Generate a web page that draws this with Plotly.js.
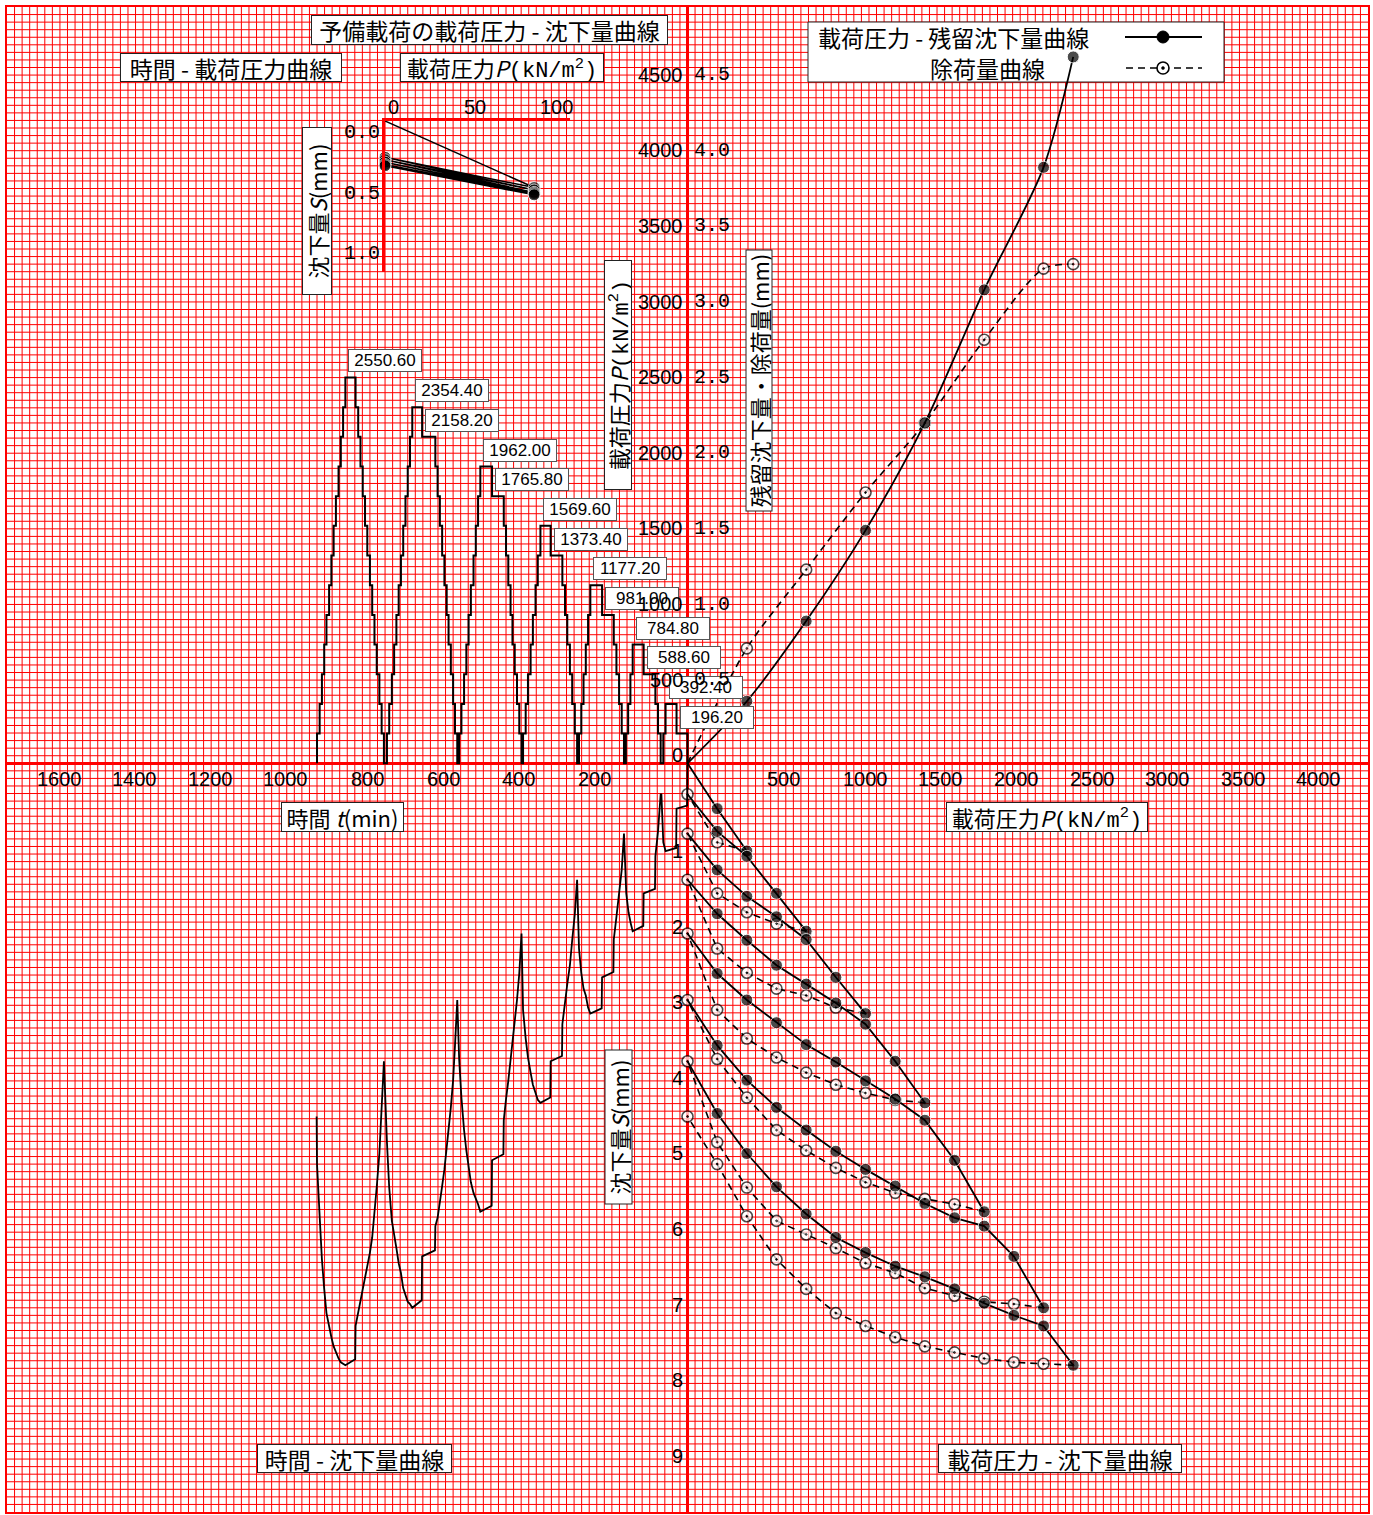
<!DOCTYPE html>
<html>
<head>
<meta charset="utf-8">
<script src="https://cdn.plot.ly/plotly-3.0.1.min.js"></script>
<style>
html,body{margin:0;padding:0;background:#fff;}
#chart{width:1373px;height:1515px;}
#chart path.xgrid, #chart path.ygrid { shape-rendering: geometricPrecision !important; }
</style>
</head>
<body>
<div id="chart"></div>
<script>
// ---------------- DATA ----------------
// load levels (kN/m2)
const loadLevels = [0, 196.2, 392.4, 588.6, 784.8, 981.0, 1177.2, 1373.4, 1569.6, 1765.8, 1962.0, 2158.2, 2354.4, 2550.6];

// load - settlement curves (mm), loading branches per cycle
const loadS1 = [0, 0.60, 1.16];
const loadS2 = [0.41, 0.90, 1.23, 1.72, 2.22];
const loadS3 = [0.93, 1.41, 1.76, 2.03, 2.33, 2.83, 3.31];
const loadS4 = [1.54, 1.99, 2.34, 2.67, 2.92, 3.17, 3.45, 3.94, 4.49];
const loadS5 = [2.25, 2.78, 3.13, 3.43, 3.72, 3.95, 4.20, 4.44, 4.72, 5.25, 5.93];
const loadS6 = [3.13, 3.73, 4.19, 4.55, 4.85, 5.13, 5.37, 5.59, 5.82, 6.01, 6.12, 6.52, 7.20];
const loadS7 = [3.94, 4.63, 5.16, 5.60, 5.96, 6.27, 6.47, 6.65, 6.79, 6.95, 7.14, 7.30, 7.44, 7.96];
// unloading branches per cycle (from peak down to 0)
const unloadS1 = [1.16, 1.045, 0.41];
const unloadS2 = [2.22, 2.12, 1.97, 1.72, 0.93];
const unloadS3 = [3.31, 3.23, 3.07, 2.98, 2.77, 2.45, 1.54];
const unloadS4 = [4.49, 4.45, 4.36, 4.25, 4.09, 3.89, 3.64, 3.26, 2.25];
const unloadS5 = [5.93, 5.83, 5.76, 5.68, 5.54, 5.35, 5.12, 4.85, 4.42, 3.91, 3.13];
const unloadS6 = [7.20, 7.15, 7.12, 7.04, 6.94, 6.74, 6.61, 6.41, 6.23, 6.05, 5.61, 5.01, 3.94];
const unloadS7 = [7.96, 7.94, 7.92, 7.87, 7.79, 7.71, 7.59, 7.44, 7.27, 6.95, 6.56, 5.99, 5.30, 4.67];

// load - residual settlement / rebound (mm)
const peakP = [0, 392.4, 784.8, 1177.2, 1569.6, 1962.0, 2354.4, 2550.6];
const residualS = [0, 0.41, 0.94, 1.54, 2.25, 3.13, 3.94, 4.67];
const reboundS = [0, 0.76, 1.28, 1.79, 2.25, 2.80, 3.27, 3.30];

// time - load (min, kN/m2), step changes
const stepTime = [0, 0, 29, 58, 64,
  71, 78, 85, 116, 145, 151, 157, 163,
  168, 174, 181, 188, 195, 226, 257, 263, 269, 275, 281, 287,
  292, 298, 305, 311, 318, 324, 331, 362, 389, 396, 402, 409, 415, 422, 428, 435,
  439, 445, 451, 457, 463, 468, 474, 480, 486, 517, 548, 554, 560, 566, 573, 579, 585, 591, 598, 604,
  609, 615, 620, 626, 632, 637, 643, 649, 655, 661, 667, 702, 728, 734, 740, 746, 752, 758, 764, 770, 776, 782, 789, 795,
  803, 809, 815, 822, 828, 834, 840, 847, 853, 859, 865, 871, 878, 905, 911, 917, 923, 930, 936, 942, 948, 955, 961, 967, 973, 980];
const stepLoad = [0, 196.2, 392.4, 196.2, 0,
  196.2, 392.4, 588.6, 784.8, 588.6, 392.4, 196.2, 0,
  196.2, 392.4, 588.6, 784.8, 981.0, 1177.2, 981.0, 784.8, 588.6, 392.4, 196.2, 0,
  196.2, 392.4, 588.6, 784.8, 981.0, 1177.2, 1373.4, 1569.6, 1373.4, 1177.2, 981.0, 784.8, 588.6, 392.4, 196.2, 0,
  196.2, 392.4, 588.6, 784.8, 981.0, 1177.2, 1373.4, 1569.6, 1765.8, 1962.0, 1765.8, 1569.6, 1373.4, 1177.2, 981.0, 784.8, 588.6, 392.4, 196.2, 0,
  196.2, 392.4, 588.6, 784.8, 981.0, 1177.2, 1373.4, 1569.6, 1765.8, 1962.0, 2158.2, 2354.4, 2158.2, 1962.0, 1765.8, 1569.6, 1373.4, 1177.2, 981.0, 784.8, 588.6, 392.4, 196.2, 0,
  196.2, 392.4, 588.6, 784.8, 981.0, 1177.2, 1373.4, 1569.6, 1765.8, 1962.0, 2158.2, 2354.4, 2550.6, 2354.4, 2158.2, 1962.0, 1765.8, 1569.6, 1373.4, 1177.2, 981.0, 784.8, 588.6, 392.4, 196.2, 0];

// time - settlement (min, mm)
const tsTime = [0, 1, 29, 30, 58, 64, 69,
  71, 78, 85, 86, 116, 117, 145, 150, 156, 162, 168,
  174, 181, 188, 195, 196, 226, 227, 257, 263, 269, 275, 281, 287, 292,
  298, 305, 311, 318, 324, 331, 332, 362, 363, 389, 396, 402, 409, 415, 422, 428, 435, 439,
  445, 451, 457, 463, 468, 474, 480, 486, 487, 517, 518, 548, 554, 560, 566, 573, 579, 585, 591, 598, 604, 609,
  615, 620, 626, 632, 637, 643, 649, 655, 661, 667, 668, 702, 703, 728, 734, 740, 746, 752, 758, 764, 770, 776, 782, 789, 795, 803,
  809, 815, 822, 828, 834, 840, 847, 853, 859, 865, 871, 878, 879, 905, 911, 917, 923, 930, 936, 942, 948, 955, 961, 967, 973, 980, 981];
const tsSettle = [0, 0.56, 0.60, 1.12, 1.16, 1.045, 0.41,
  0.41, 0.90, 1.23, 1.66, 1.72, 2.15, 2.22, 2.12, 1.97, 1.72, 0.93,
  1.41, 1.76, 2.03, 2.33, 2.76, 2.83, 3.24, 3.31, 3.23, 3.07, 2.98, 2.77, 2.45, 1.54,
  1.99, 2.34, 2.67, 2.92, 3.17, 3.45, 3.87, 3.94, 4.42, 4.49, 4.45, 4.36, 4.25, 4.09, 3.89, 3.64, 3.26, 2.25,
  2.78, 3.13, 3.43, 3.72, 3.95, 4.20, 4.44, 4.72, 5.17, 5.25, 5.85, 5.93, 5.83, 5.76, 5.68, 5.54, 5.35, 5.12, 4.85, 4.42, 3.91, 3.13,
  3.73, 4.19, 4.55, 4.85, 5.13, 5.37, 5.59, 5.82, 6.01, 6.12, 6.44, 6.52, 7.10, 7.20, 7.15, 7.12, 7.04, 6.94, 6.74, 6.61, 6.41, 6.23, 6.05, 5.61, 5.01, 3.94,
  4.63, 5.16, 5.60, 5.96, 6.27, 6.47, 6.65, 6.79, 6.95, 7.14, 7.30, 7.44, 7.88, 7.96, 7.94, 7.92, 7.87, 7.79, 7.71, 7.59, 7.44, 7.27, 6.95, 6.56, 5.99, 5.30, 4.67];

// preliminary loading (inset)
const prelimP = [0, 98.1, 0, 98.1, 0, 98.1, 0, 98.1, 0, 98.1, 0];
const prelimS = [0, 0.55, 0.30, 0.57, 0.32, 0.59, 0.34, 0.60, 0.36, 0.61, 0.37];

// tick labels
const timeTicks = [200, 400, 600, 800, 1000, 1200, 1400, 1600];
const pressureTicksX = [500, 1000, 1500, 2000, 2500, 3000, 3500, 4000];
const pressureTicksY = [0, 500, 1000, 1500, 2000, 2500, 3000, 3500, 4000, 4500];
const residualTicks = [0.5, 1.0, 1.5, 2.0, 2.5, 3.0, 3.5, 4.0, 4.5];
const residualTickText = ['0.5', '1.0', '1.5', '2.0', '2.5', '3.0', '3.5', '4.0', '4.5'];
const settleTicks = [1, 2, 3, 4, 5, 6, 7, 8, 9];
const insetPTicks = [0, 50, 100];
const insetSTicks = [0.0, 0.5, 1.0];
const insetSTickText = ['0.0', '0.5', '1.0'];

// ---------------- STYLE / LAYOUT ----------------
const CJK = '"Noto Sans CJK JP", "Noto Sans", sans-serif';
const NUM = '"Liberation Sans", Arial, sans-serif';
const MONO = '"Liberation Mono", "DejaVu Sans Mono", monospace';
const GRID = '#ff0000';
const UNIT = '<span style="font-family:\'Liberation Mono\',monospace">(kN/m<sup>2</sup>)</span>';
const X_RANGE = [-4500, 4500], Y_RANGE = [-4950, 5000];
const PLOT = {l: 7, t: 7, w: 1361, h: 1505};
const PX = px => (px - PLOT.l) / PLOT.w;            // pixel -> paper
const PY = py => (PLOT.t + PLOT.h - py) / PLOT.h;
const DX = px => X_RANGE[0] + PX(px) * (X_RANGE[1] - X_RANGE[0]);   // pixel -> base axis value
const DY = py => Y_RANGE[0] + PY(py) * (Y_RANGE[1] - Y_RANGE[0]);

const traces = [];
// legend panel background (white box under the curves, above the grid)
const LG = {x0: 808, x1: 1224, y0: 22, y1: 82};
traces.push({x: [DX(LG.x0), DX(LG.x1), DX(LG.x1), DX(LG.x0), DX(LG.x0)],
  y: [DY(LG.y0), DY(LG.y0), DY(LG.y1), DY(LG.y1), DY(LG.y0)],
  xaxis: 'x', yaxis: 'y', mode: 'lines', fill: 'toself', fillcolor: '#fff',
  line: {color: '#222', width: 1}, hoverinfo: 'skip'});
// time - load
traces.push({x: stepTime, y: stepLoad, xaxis: 'x2', yaxis: 'y', mode: 'lines',
  line: {shape: 'hv', color: '#000', width: 2}, hoverinfo: 'skip'});
// time - settlement
traces.push({x: tsTime, y: tsSettle, xaxis: 'x2', yaxis: 'y2', mode: 'lines',
  line: {color: '#000', width: 1.8}, hoverinfo: 'skip'});

// load - settlement
const loadSets = [loadS1, loadS2, loadS3, loadS4, loadS5, loadS6, loadS7];
const unloadSets = [unloadS1, unloadS2, unloadS3, unloadS4, unloadS5, unloadS6, unloadS7];
unloadSets.forEach(s => {
  const p = loadLevels.slice(0, s.length).reverse();
  traces.push({x: p, y: s, xaxis: 'x', yaxis: 'y2', mode: 'lines+markers',
    line: {color: '#000', width: 1.6, dash: '7px,5px'},
    marker: {symbol: 'circle-dot', size: s.map((v, i) => i === 0 ? 0 : 11), color: '#fff', line: {color: '#000', width: 1.6}},
    hoverinfo: 'skip'});
});
loadSets.forEach((s, c) => {
  const p = loadLevels.slice(0, s.length);
  traces.push({x: p, y: s, xaxis: 'x', yaxis: 'y2', mode: 'lines+markers',
    line: {color: '#000', width: 1.8},
    marker: {symbol: 'circle', size: s.map((v, i) => i === 0 ? 0 : 12), color: '#000'},
    hoverinfo: 'skip'});
});

// residual / rebound
traces.push({x: peakP, y: reboundS, xaxis: 'x', yaxis: 'y3', mode: 'lines+markers',
  line: {color: '#000', width: 1.6, dash: '7px,5px', shape: 'spline', smoothing: 0.8},
  marker: {symbol: 'circle-dot', size: reboundS.map((v, i) => i === 0 ? 0 : 11), color: '#fff', line: {color: '#000', width: 1.6}},
  hoverinfo: 'skip'});
traces.push({x: peakP, y: residualS, xaxis: 'x', yaxis: 'y3', mode: 'lines+markers',
  line: {color: '#000', width: 1.8, shape: 'spline', smoothing: 0.8},
  marker: {symbol: 'circle', size: residualS.map((v, i) => i === 0 ? 0 : 12), color: '#000'},
  hoverinfo: 'skip'});

// inset
traces.push({x: prelimP, y: prelimS, xaxis: 'x3', yaxis: 'y4', mode: 'lines+markers',
  line: {color: '#000', width: 1.5},
  marker: {symbol: 'circle', size: prelimS.map((v, i) => i === 0 ? 0 : 12), color: '#000'},
  cliponaxis: false, hoverinfo: 'skip'});

// ------------- annotations -------------
const ann = [];
function boxAnn(text, cx, cy, w, h, angle, size) {
  ann.push({xref: 'paper', yref: 'paper', x: PX(cx), y: PY(cy), xanchor: 'center', yanchor: 'middle',
    text: text, showarrow: false, bgcolor: '#fff', bordercolor: '#222', borderwidth: 1, borderpad: 0,
    width: w, height: h, textangle: angle || 0, font: {family: CJK, size: size || 23, color: '#000'}});
}
function tick(text, xref, x, yref, y, xa, ya, xs, ys, fam, size) {
  ann.push({xref: xref, yref: yref, x: x, y: y, xanchor: xa, yanchor: ya, xshift: xs, yshift: ys,
    text: text, showarrow: false, font: {family: fam, size: size, color: '#000'}});
}

// time - load step labels
loadLevels.slice(1).forEach(L => {
  const i = stepLoad.indexOf(L);
  ann.push({xref: 'x2', yref: 'y', x: stepTime[i + 1], y: L, xanchor: 'left', yanchor: 'bottom',
    xshift: 3, yshift: 5, text: L.toFixed(2), showarrow: false, bgcolor: '#fff', bordercolor: '#555',
    borderwidth: 1, borderpad: 1, width: 70, height: 19, font: {family: NUM, size: 17, color: '#000'}});
});

// title / axis boxes
boxAnn('予備載荷の載荷圧力 - 沈下量曲線', 489.5, 30, 355, 28);
boxAnn('時間 - 載荷圧力曲線', 231, 67.5, 220, 27);
boxAnn('載荷圧力<i>P</i>' + UNIT, 502, 67.5, 202, 27, 0, 22);
boxAnn('沈下量<i>S</i>(mm)', 317, 211, 166, 28, -90, 22);
boxAnn('載荷圧力<i>P</i>' + UNIT, 618, 375, 228, 26, -90, 22);
boxAnn('残留沈下量・除荷量(mm)', 758.5, 381, 260, 25, -90, 22);
boxAnn('時間 <i>t</i>(min)', 342.5, 817, 121, 28, 0, 22);
boxAnn('載荷圧力<i>P</i>' + UNIT, 1047, 817, 200, 28, 0, 22);
boxAnn('沈下量<i>S</i>(mm)', 618, 1127.5, 153, 26, -90, 22);
boxAnn('時間 - 沈下量曲線', 354.5, 1458.5, 193, 27);
boxAnn('載荷圧力 - 沈下量曲線', 1060, 1458.5, 242, 27);

// legend texts
ann.push({xref: 'paper', yref: 'paper', x: PX(953), y: PY(37), xanchor: 'center', yanchor: 'middle',
  text: '載荷圧力 - 残留沈下量曲線', showarrow: false, font: {family: CJK, size: 23, color: '#000'}});
ann.push({xref: 'paper', yref: 'paper', x: PX(987), y: PY(68), xanchor: 'center', yanchor: 'middle',
  text: '除荷量曲線', showarrow: false, font: {family: CJK, size: 23, color: '#000'}});

// tick labels
timeTicks.forEach(t => tick(String(t), 'x2', t, 'y', 0, 'right', 'middle', 1, -16, NUM, 20));
pressureTicksX.forEach(p => tick(String(p), 'x', p, 'y', 0, 'left', 'middle', 2, -16, NUM, 20));
pressureTicksY.forEach(p => tick(String(p), 'x', 0, 'y', p, 'right', 'middle', -3, 8, NUM, 20));
residualTicks.forEach((r, i) => tick(residualTickText[i], 'x', 0, 'y3', r, 'left', 'middle', 4, 8, MONO, 20));
settleTicks.forEach(s => tick(String(s), 'x', 0, 'y2', s, 'right', 'middle', -3, -12, NUM, 20));
insetPTicks.forEach(p => tick(String(p), 'x3', p, 'y4', 0, 'left', 'middle', 1, 14, NUM, 20));
insetSTicks.forEach((s, i) => tick(insetSTickText[i], 'x3', 0, 'y4', s, 'right', 'middle', -3, -12, MONO, 20));

// ------------- shapes (legend samples) -------------
const shapes = [
  {type: 'line', xref: 'paper', yref: 'paper', x0: PX(1125), x1: PX(1202), y0: PY(37), y1: PY(37),
    line: {color: '#000', width: 1.8}, layer: 'above'},
  {type: 'circle', xref: 'paper', yref: 'paper', x0: PX(1157), x1: PX(1169), y0: PY(43), y1: PY(31),
    fillcolor: '#000', line: {color: '#000', width: 1}, layer: 'above'},
  {type: 'line', xref: 'paper', yref: 'paper', x0: PX(1126), x1: PX(1202), y0: PY(68), y1: PY(68),
    line: {color: '#000', width: 1.6, dash: '7px,5px'}, layer: 'above'},
  {type: 'circle', xref: 'paper', yref: 'paper', x0: PX(1157), x1: PX(1169), y0: PY(74), y1: PY(62),
    fillcolor: '#fff', line: {color: '#000', width: 1.6}, layer: 'above'},
  {type: 'circle', xref: 'paper', yref: 'paper', x0: PX(1161.5), x1: PX(1164.5), y0: PY(69.5), y1: PY(66.5),
    fillcolor: '#000', line: {color: '#000', width: 0.5}, layer: 'above'}
];

const gridAxis = {showgrid: true, gridcolor: GRID, gridwidth: 1, dtick: 50, tick0: 0,
  zeroline: true, zerolinecolor: '#ff0000', zerolinewidth: 3, showticklabels: false, ticks: '',
  showline: true, mirror: true, linecolor: '#ff0000', linewidth: 2, fixedrange: true};
const hiddenAxis = {showgrid: false, zeroline: false, showline: false, showticklabels: false, ticks: '', fixedrange: true};

const layout = {
  width: 1373, height: 1515,
  margin: {l: 7, r: 5, t: 7, b: 3, pad: 0},
  paper_bgcolor: '#fff', plot_bgcolor: 'rgba(0,0,0,0)',
  showlegend: false,
  xaxis: Object.assign({}, gridAxis, {range: X_RANGE}),
  yaxis: Object.assign({}, gridAxis, {range: Y_RANGE}),
  xaxis2: Object.assign({}, hiddenAxis, {overlaying: 'x', range: [1800, -1800]}),
  yaxis2: Object.assign({}, hiddenAxis, {overlaying: 'y', range: [9.9, -10.0]}),
  yaxis3: Object.assign({}, hiddenAxis, {overlaying: 'y', range: [-4.95, 5.0]}),
  xaxis3: {domain: [PX(385), PX(570)], anchor: 'y4', range: [0, 121.7], side: 'top',
    showgrid: false, zeroline: false, showline: true, linecolor: '#ff0000', linewidth: 3,
    showticklabels: false, ticks: '', fixedrange: true},
  yaxis4: {domain: [PY(272), PY(121)], anchor: 'x3', range: [1.248, 0], side: 'left',
    showgrid: false, zeroline: false, showline: true, linecolor: '#ff0000', linewidth: 3,
    showticklabels: false, ticks: '', fixedrange: true},
  annotations: ann,
  shapes: shapes
};

Plotly.newPlot('chart', traces, layout, {staticPlot: true, displayModeBar: false});
</script>
</body>
</html>
